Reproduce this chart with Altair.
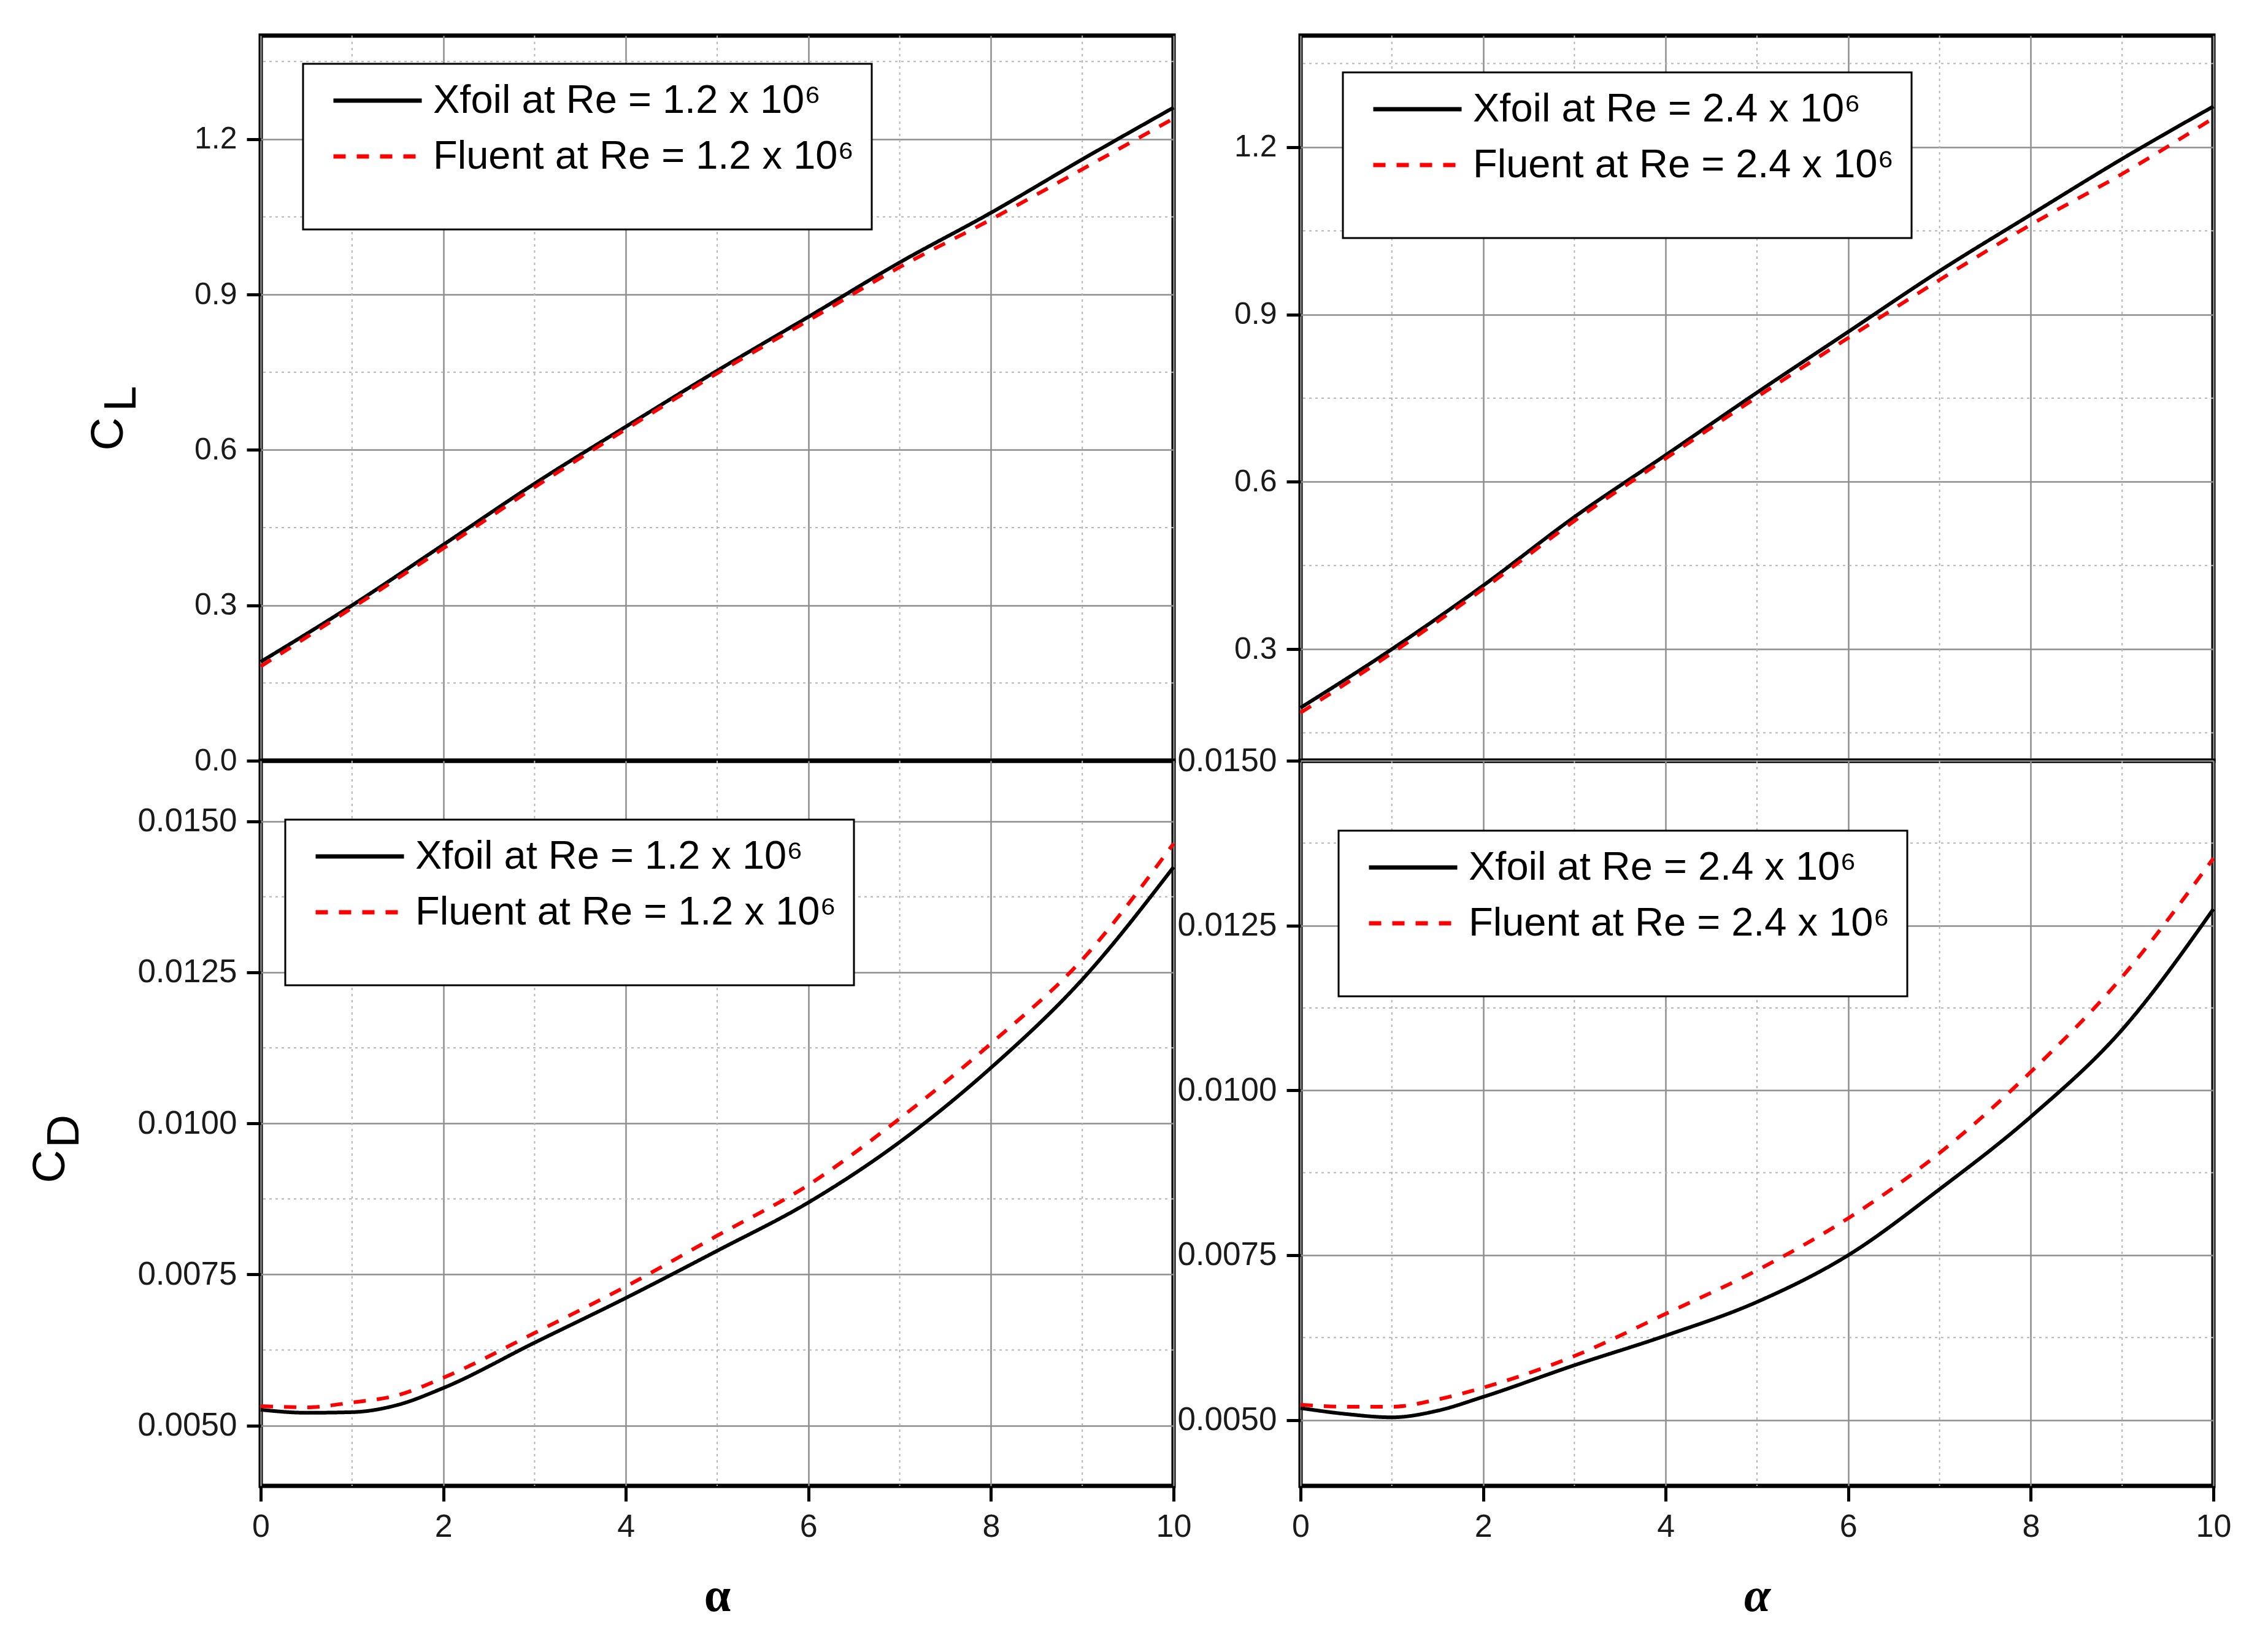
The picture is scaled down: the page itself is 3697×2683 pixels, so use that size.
import altair as alt
import pandas as pd

# ---------------- data ----------------
alpha_cl = [0, 1, 2, 3, 4, 5, 6, 7, 8, 9, 10]
cl_xfoil_12 = [0.191, 0.300, 0.417, 0.535, 0.645, 0.753, 0.857, 0.962, 1.058, 1.161, 1.261]
cl_fluent_12 = [0.182, 0.295, 0.410, 0.528, 0.640, 0.748, 0.850, 0.953, 1.045, 1.142, 1.240]
cl_xfoil_24 = [0.195, 0.300, 0.414, 0.537, 0.648, 0.760, 0.869, 0.978, 1.079, 1.179, 1.273]
cl_fluent_24 = [0.186, 0.293, 0.408, 0.530, 0.642, 0.752, 0.858, 0.962, 1.061, 1.152, 1.252]

alpha_cd = [0, 0.5, 1, 1.5, 2, 3, 4, 5, 6, 7, 8, 9, 10]
cd_xfoil_12 = [0.00526, 0.00521, 0.00522, 0.00534, 0.00562, 0.00637, 0.00711, 0.00789,
               0.00869, 0.00969, 0.01092, 0.01238, 0.01424]
cd_fluent_12 = [0.00532, 0.00530, 0.00538, 0.00550, 0.00579, 0.00653, 0.00730, 0.00814,
                0.00898, 0.01008, 0.01132, 0.01271, 0.01463]
cd_xfoil_24 = [0.00518, 0.00509, 0.00504, 0.00514, 0.00535, 0.00583, 0.00628, 0.00679,
               0.00750, 0.00850, 0.00960, 0.01092, 0.01275]
cd_fluent_24 = [0.00523, 0.00520, 0.00520, 0.00531, 0.00549, 0.00597, 0.00661, 0.00727,
                0.00806, 0.00905, 0.01028, 0.01172, 0.01352]

labels_12 = ["Xfoil at Re = 1.2 x 10\u2076", "Fluent at Re = 1.2 x 10\u2076"]
labels_24 = ["Xfoil at Re = 2.4 x 10\u2076", "Fluent at Re = 2.4 x 10\u2076"]

x_major = [0, 2, 4, 6, 8, 10]
x_minor = [1, 3, 5, 7, 9]
cl_ticks_left = [0.0, 0.3, 0.6, 0.9, 1.2]
cl_ticks_right = [0.3, 0.6, 0.9, 1.2]
cl_minor = [0.15, 0.45, 0.75, 1.05, 1.35]
cd_ticks = [0.005, 0.0075, 0.01, 0.0125, 0.015]
cd_minor = [0.00625, 0.00875, 0.01125, 0.01375]

SANS = "Liberation Sans"
SERIF = "Liberation Serif"
W, H = 1488, 1182
GRID = "#8e8e8e"


def long_df(alpha, xfoil, fluent, labels):
    rows = []
    for a, v in zip(alpha, xfoil):
        rows.append({"alpha": a, "value": v, "series": labels[0]})
    for a, v in zip(alpha, fluent):
        rows.append({"alpha": a, "value": v, "series": labels[1]})
    return pd.DataFrame(rows)


def panel(df, ydomain, yticks, yminor, yfmt, labels, legend_xy, bottom,
          ytitle=None, title_xy=None, sub=None, sub_xy=None, italic=False, lab_size=50):
    xscale = alt.Scale(domain=[0, 10], nice=False, zero=False)
    yscale = alt.Scale(domain=ydomain, nice=False, zero=False)

    if bottom:
        xaxis = alt.Axis(values=x_major, title="\u03b1", grid=True, gridColor=GRID,
                         gridWidth=2.5, domain=False, ticks=True, tickSize=25, tickWidth=5,
                         tickColor="black", labels=True, labelFontSize=52, labelFont=SANS,
                         labelColor="#1a1a1a", labelPadding=16, labelFlush=False,
                         format="d", titleFont=SERIF, titleFontWeight="bold",
                         titleFontSize=78, titleColor="black",
                         titleFontStyle="italic" if italic else "normal",
                         titleY=203, titleBaseline="alphabetic")
    else:
        xaxis = alt.Axis(values=x_major, title=None, grid=True, gridColor=GRID,
                         gridWidth=2.5, domain=False, ticks=False, labels=False)

    yargs = dict(values=yticks, format=yfmt, grid=True, gridColor=GRID, gridWidth=2.5,
                 domain=False, ticks=True, tickSize=23, tickWidth=5, tickColor="black",
                 labelFontSize=lab_size, labelFont=SANS, labelColor="#1a1a1a", labelPadding=16,
                 labelFlush=False)
    if ytitle:
        yargs.update(title=ytitle, titleFont=SANS, titleFontSize=75, titleFontWeight="normal",
                     titleColor="black", titleAngle=270, titleAlign="center",
                     titleBaseline="middle", titleX=title_xy[0], titleY=title_xy[1])
    else:
        yargs.update(title=None)
    yaxis = alt.Axis(**yargs)

    leg = alt.Legend(orient="none", legendX=legend_xy[0], legendY=legend_xy[1],
                     title=" ", titleOrient="bottom", titleFontSize=50, titlePadding=8,
                     symbolType="stroke", symbolSize=144 * 144, symbolStrokeWidth=7,
                     clipHeight=64,
                     labelFontSize=65, labelFont=SANS, labelColor="black", labelLimit=3000,
                     padding=28, rowPadding=26, symbolOffset=18, labelOffset=15,
                     strokeColor="black", fillColor="white", direction="vertical")

    lines = alt.Chart(df).mark_line(strokeWidth=6, interpolate="monotone").encode(
        x=alt.X("alpha:Q", scale=xscale, axis=xaxis),
        y=alt.Y("value:Q", scale=yscale, axis=yaxis),
        color=alt.Color("series:N", scale=alt.Scale(domain=labels, range=["black", "#ff0000"]),
                        legend=leg),
        strokeDash=alt.StrokeDash("series:N",
                                  scale=alt.Scale(domain=labels, range=[[1, 0], [20, 18]]),
                                  legend=leg),
    )

    vminor = alt.Chart(pd.DataFrame({"v": x_minor})).mark_rule(
        color="#b5b5b5", strokeWidth=2, strokeDash=[4, 6]).encode(
        x=alt.X("v:Q", scale=xscale))
    hminor = alt.Chart(pd.DataFrame({"h": yminor})).mark_rule(
        color="#b5b5b5", strokeWidth=2, strokeDash=[4, 6]).encode(
        y=alt.Y("h:Q", scale=yscale))

    layers = [vminor, hminor, lines]
    if sub:
        subt = alt.Chart(pd.DataFrame({"s": [sub]})).mark_text(
            font=SANS, fontSize=75, angle=270, align="center", baseline="middle",
            color="black").encode(text="s:N", x=alt.value(sub_xy[0]), y=alt.value(sub_xy[1]))
        layers.append(subt)

    return alt.layer(*layers).properties(width=W, height=H)


tl = panel(long_df(alpha_cl, cl_xfoil_12, cl_fluent_12, labels_12), [0.0, 1.4],
           cl_ticks_left, cl_minor, ".1f", labels_12, (69, 46), False,
           ytitle="C", title_xy=(-249, 649), sub="L", sub_xy=(-227, 592))
tr = panel(long_df(alpha_cl, cl_xfoil_24, cl_fluent_24, labels_24), [0.1, 1.4],
           cl_ticks_right, cl_minor, ".1f", labels_24, (69, 60), False)
bl = panel(long_df(alpha_cd, cd_xfoil_12, cd_fluent_12, labels_12), [0.004, 0.016],
           cd_ticks, cd_minor, ".4f", labels_12, (40, 96), True,
           ytitle="C", title_xy=(-344, 661), sub="D", sub_xy=(-320, 604), lab_size=53)
br = panel(long_df(alpha_cd, cd_xfoil_24, cd_fluent_24, labels_24), [0.004, 0.015],
           cd_ticks, cd_minor, ".4f", labels_24, (62, 114), True, italic=True, lab_size=53)

chart = alt.concat(tl, tr, bl, br, columns=2, spacing={"row": 0, "column": 207},
                   bounds="flush").resolve_scale(
    color="independent", strokeDash="independent"
).properties(
    padding={"left": 32, "top": 45, "right": 20, "bottom": 20},
    background="white",
).configure_view(
    stroke="black", strokeWidth=7
).configure_legend(
    strokeWidth=3
)

chart.save("out.html", embed_options={"renderer": "svg", "actions": False})
